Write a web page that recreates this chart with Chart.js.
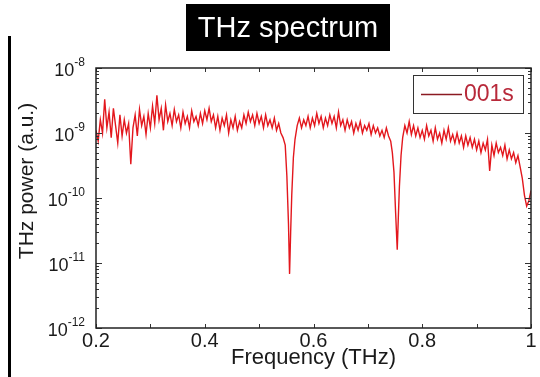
<!DOCTYPE html>
<html>
<head>
<meta charset="utf-8">
<script src="https://cdnjs.cloudflare.com/ajax/libs/Chart.js/4.4.1/chart.umd.min.js"></script>
<style>
  html, body { margin: 0; background: #fff; }
  #wrap { width: 540px; height: 377px; position: relative; }
</style>
</head>
<body>
<div id="wrap"><canvas id="c"></canvas></div>
<script>
// THz power spectrum, single trace, log y.
const TITLE = 'THz spectrum';
const SERIES = '001s';
const X_LABEL = 'Frequency (THz)';
const Y_LABEL = 'THz power (a.u.)';
const X_TICKS = [0.2, 0.4, 0.6, 0.8, 1.0];
const X_MINOR = [0.3, 0.5, 0.7, 0.9];
const Y_DECADES = [-12, -11, -10, -9, -8];   // exponents of the labelled ticks

// Frequency (THz) and power (a.u.)
const FREQ = [
  0.200,0.204,0.208,0.212,0.216,0.220,0.224,0.228,0.232,0.236,0.240,0.244,0.248,0.252,0.256,0.260,
  0.264,0.268,0.272,0.276,0.280,0.284,0.288,0.292,0.296,0.300,0.304,0.308,0.312,0.316,0.320,0.324,
  0.328,0.332,0.336,0.340,0.344,0.348,0.352,0.356,0.360,0.364,0.368,0.372,0.376,0.380,0.384,0.388,
  0.392,0.396,0.400,0.404,0.408,0.412,0.416,0.420,0.424,0.428,0.432,0.436,0.440,0.444,0.448,0.452,
  0.456,0.460,0.464,0.468,0.472,0.476,0.480,0.484,0.488,0.492,0.496,0.500,0.504,0.508,0.512,0.516,
  0.520,0.524,0.528,0.532,0.536,0.540,0.544,0.548,0.551,0.554,0.556,0.558,0.560,0.563,0.566,0.570,
  0.574,0.578,0.582,0.586,0.590,0.594,0.598,0.602,0.606,0.610,0.614,0.618,0.622,0.626,0.630,0.634,
  0.638,0.642,0.646,0.650,0.654,0.658,0.662,0.666,0.670,0.674,0.678,0.682,0.686,0.690,0.694,0.698,
  0.702,0.706,0.710,0.714,0.718,0.722,0.726,0.730,0.734,0.738,0.742,0.745,0.748,0.751,0.754,0.756,
  0.758,0.761,0.764,0.768,0.772,0.776,0.780,0.784,0.788,0.792,0.796,0.800,0.804,0.808,0.812,0.816,
  0.820,0.824,0.828,0.832,0.836,0.840,0.844,0.848,0.852,0.856,0.860,0.864,0.868,0.872,0.876,0.880,
  0.884,0.888,0.892,0.896,0.900,0.904,0.908,0.912,0.916,0.920,0.924,0.928,0.932,0.936,0.940,0.944,
  0.948,0.952,0.956,0.960,0.964,0.968,0.972,0.976,0.980,0.984,0.988,0.992,0.996,1.000
];
const POWER = [
  1.1e-9,7.5e-10,1.6e-9,1.0e-9,3.3e-9,1.2e-9,2.1e-9,8.5e-10,2.4e-9,1.3e-9,7.0e-10,1.9e-9,9.0e-10,1.6e-9,1.0e-9,1.4e-9,
  3.3e-10,1.2e-9,1.9e-9,9.0e-10,2.3e-9,1.3e-9,1.8e-9,9.5e-10,2.0e-9,1.2e-9,2.6e-9,1.4e-9,3.8e-9,1.6e-9,2.4e-9,1.1e-9,
  2.7e-9,1.5e-9,2.0e-9,1.3e-9,2.3e-9,1.5e-9,1.9e-9,1.2e-9,2.1e-9,1.4e-9,1.8e-9,1.2e-9,2.2e-9,1.5e-9,1.8e-9,1.3e-9,
  2.0e-9,1.4e-9,2.2e-9,1.6e-9,2.4e-9,1.5e-9,1.9e-9,1.2e-9,1.8e-9,1.1e-9,1.7e-9,1.3e-9,1.9e-9,1.0e-9,1.6e-9,1.2e-9,
  1.8e-9,1.1e-9,1.5e-9,1.2e-9,1.9e-9,1.4e-9,2.1e-9,1.5e-9,1.9e-9,1.3e-9,2.0e-9,1.4e-9,1.8e-9,1.2e-9,1.9e-9,1.3e-9,
  1.6e-9,1.2e-9,1.7e-9,1.1e-9,1.4e-9,1.0e-9,8.5e-10,6.5e-10,2.2e-10,4.0e-11,6.8e-12,3.0e-11,1.1e-10,4.2e-10,8.0e-10,1.3e-9,
  1.7e-9,1.2e-9,1.6e-9,1.3e-9,1.8e-9,1.2e-9,1.7e-9,1.3e-9,2.0e-9,1.4e-9,1.8e-9,1.2e-9,1.7e-9,1.3e-9,1.9e-9,1.4e-9,
  1.8e-9,1.2e-9,2.1e-9,1.3e-9,1.6e-9,1.1e-9,1.6e-9,1.2e-9,1.5e-9,1.0e-9,1.4e-9,1.1e-9,1.5e-9,1.0e-9,1.3e-9,1.1e-9,
  1.4e-9,9.5e-10,1.3e-9,1.0e-9,1.2e-9,9.0e-10,1.1e-9,8.5e-10,1.2e-9,9.0e-10,7.5e-10,5.0e-10,2.5e-10,6.0e-11,1.6e-11,5.0e-11,
  1.5e-10,4.5e-10,8.5e-10,1.3e-9,1.0e-9,1.5e-9,9.5e-10,1.3e-9,9.0e-10,1.2e-9,8.5e-10,1.1e-9,8.0e-10,1.3e-9,9.0e-10,1.1e-9,
  7.5e-10,1.2e-9,8.0e-10,1.0e-9,7.0e-10,1.1e-9,8.0e-10,1.2e-9,7.5e-10,9.5e-10,7.0e-10,1.0e-9,7.0e-10,9.0e-10,6.0e-10,9.0e-10,
  6.5e-10,8.5e-10,6.0e-10,8.0e-10,5.5e-10,7.5e-10,5.0e-10,7.0e-10,5.5e-10,8.0e-10,2.6e-10,6.5e-10,4.5e-10,7.0e-10,5.0e-10,6.0e-10,
  4.5e-10,6.5e-10,4.0e-10,5.5e-10,4.0e-10,5.0e-10,3.5e-10,4.5e-10,3.0e-10,2.0e-10,1.1e-10,7.5e-11,9.0e-11,1.3e-10
];

const FONT = 'Liberation Sans, Arial, Helvetica, sans-serif';
const INK = '#1a1a1a';

// Inner tick marks on all four sides, frame, and the log-decade labels
const frame = {
  id: 'frame',
  afterDatasetsDraw(chart) {
    const {ctx, chartArea: a, scales: {x, y}} = chart;
    ctx.save();
    ctx.strokeStyle = '#333';
    ctx.lineWidth = 1;
    ctx.beginPath();
    X_TICKS.concat(X_MINOR).forEach(v => {
      const px = Math.round(x.getPixelForValue(v)) + 0.5;
      ctx.moveTo(px, a.bottom); ctx.lineTo(px, a.bottom - 4);
      ctx.moveTo(px, a.top); ctx.lineTo(px, a.top + 4);
    });
    Y_DECADES.forEach((e, i) => {
      const py = Math.round(y.getPixelForValue(Math.pow(10, e))) + 0.5;
      ctx.moveTo(a.left, py); ctx.lineTo(a.left + 6, py);
      ctx.moveTo(a.right, py); ctx.lineTo(a.right - 6, py);
      if (i === Y_DECADES.length - 1) return;
      for (let k = 2; k <= 9; k++) {
        const pm = Math.round(y.getPixelForValue(k * Math.pow(10, e))) + 0.5;
        ctx.moveTo(a.left, pm); ctx.lineTo(a.left + 3, pm);
        ctx.moveTo(a.right, pm); ctx.lineTo(a.right - 3, pm);
      }
    });
    ctx.stroke();
    ctx.lineWidth = 1.5;
    ctx.strokeStyle = '#222';
    ctx.strokeRect(a.left, a.top, a.right - a.left, a.bottom - a.top);

    // y tick labels: 10 with raised exponent
    ctx.fillStyle = INK;
    ctx.textBaseline = 'alphabetic';
    Y_DECADES.forEach(e => {
      const py = y.getPixelForValue(Math.pow(10, e));
      const sup = String(e);
      ctx.font = '12px ' + FONT;
      const sw = ctx.measureText(sup).width;
      ctx.textAlign = 'left';
      ctx.fillText(sup, 85 - sw, py - 2);
      ctx.font = '18px ' + FONT;
      ctx.textAlign = 'right';
      ctx.fillText('10', 85 - sw, py + 8);
    });

    // y title
    ctx.save();
    ctx.translate(27, 181);
    ctx.rotate(-Math.PI / 2);
    ctx.font = '21px ' + FONT;
    ctx.textAlign = 'center';
    ctx.textBaseline = 'middle';
    ctx.fillText(Y_LABEL, 0, 0);
    ctx.restore();

    // legend box
    ctx.fillStyle = '#fff';
    ctx.fillRect(413, 75, 110, 38);
    ctx.lineWidth = 1;
    ctx.strokeStyle = '#333';
    ctx.strokeRect(413.5, 75.5, 110, 38);
    ctx.strokeStyle = '#8b1a22';
    ctx.lineWidth = 1.5;
    ctx.beginPath(); ctx.moveTo(421, 94.5); ctx.lineTo(462, 94.5); ctx.stroke();
    ctx.fillStyle = '#b8293a';
    ctx.font = '23px ' + FONT;
    ctx.textAlign = 'left';
    ctx.textBaseline = 'middle';
    ctx.fillText(SERIES, 464, 95);
    ctx.restore();
  },
  afterDraw(chart) {
    const {ctx} = chart;
    ctx.save();
    // black title plate
    ctx.fillStyle = '#000';
    ctx.fillRect(186, 4, 204, 47);
    ctx.fillStyle = '#fff';
    ctx.font = '29px ' + FONT;
    ctx.textAlign = 'center';
    ctx.textBaseline = 'middle';
    ctx.fillText(TITLE, 288, 29);
    // left rule
    ctx.fillStyle = '#000';
    ctx.fillRect(8, 36, 3, 341);
    ctx.restore();
  }
};

new Chart(document.getElementById('c'), {
  type: 'line',
  data: {
    datasets: [{
      label: SERIES,
      data: FREQ.map((f, i) => ({x: f, y: POWER[i]})),
      borderColor: '#e3171d',
      borderWidth: 1.4,
      pointRadius: 0,
      tension: 0
    }]
  },
  options: {
    responsive: true,
    maintainAspectRatio: false,
    animation: false,
    layout: {padding: {left: 96, top: 68, right: 9, bottom: 0}},
    plugins: {legend: {display: false}, tooltip: {enabled: false}},
    scales: {
      x: {
        type: 'linear', min: 0.2, max: 1,
        afterBuildTicks: s => { s.ticks = X_TICKS.map(v => ({value: v})); },
        afterFit: s => { s.height = 49; },
        grid: {display: false, drawTicks: false},
        border: {display: false},
        ticks: {
          color: INK, padding: 1, maxRotation: 0, autoSkip: false,
          font: {family: FONT, size: 20},
          callback: v => (v === 1 ? '1' : v.toFixed(1))
        },
        title: {display: true, text: X_LABEL, color: INK,
                font: {family: FONT, size: 22}, padding: {top: 0, bottom: 6}}
      },
      y: {type: 'logarithmic', min: 1e-12, max: 1e-8, display: false}
    }
  },
  plugins: [frame]
});
</script>
</body>
</html>
